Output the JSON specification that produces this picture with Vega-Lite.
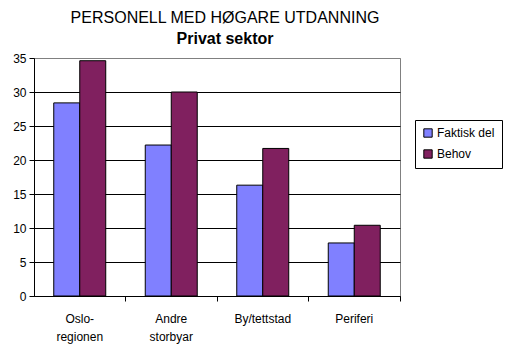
{
  "$schema": "https://vega.github.io/schema/vega-lite/v6.json",
  "autosize": "none",
  "width": 366,
  "height": 238,
  "padding": {"left": 34, "top": 58, "right": 115, "bottom": 52},
  "background": "white",
  "title": {
    "text": "PERSONELL MED HØGARE UTDANNING",
    "subtitle": "Privat sektor",
    "anchor": "middle",
    "dx": 8,
    "offset": 5,
    "font": "Liberation Sans",
    "fontSize": 16,
    "fontWeight": "normal",
    "color": "black",
    "subtitleFont": "Liberation Sans",
    "subtitleFontSize": 16,
    "subtitleFontWeight": "bold",
    "subtitleColor": "black",
    "subtitlePadding": 5
  },
  "data": {
    "values": [
      {"region": "Oslo-regionen", "serie": "Faktisk del", "verdi": 28.4},
      {"region": "Oslo-regionen", "serie": "Behov", "verdi": 34.6},
      {"region": "Andre storbyar", "serie": "Faktisk del", "verdi": 22.2},
      {"region": "Andre storbyar", "serie": "Behov", "verdi": 30.0},
      {"region": "By/tettstad", "serie": "Faktisk del", "verdi": 16.3},
      {"region": "By/tettstad", "serie": "Behov", "verdi": 21.7},
      {"region": "Periferi", "serie": "Faktisk del", "verdi": 7.8},
      {"region": "Periferi", "serie": "Behov", "verdi": 10.4}
    ]
  },
  "config": {
    "view": {"stroke": "#808080", "strokeWidth": 1},
    "axis": {"labelFont": "Liberation Sans", "labelFontSize": 12, "labelColor": "black", "domainColor": "black", "tickColor": "black"}
  },
  "mark": {"type": "bar", "stroke": "black", "strokeWidth": 1},
  "encoding": {
    "x": {
      "field": "region",
      "type": "nominal",
      "sort": ["Oslo-regionen", "Andre storbyar", "By/tettstad", "Periferi"],
      "scale": {"paddingInner": 0, "paddingOuter": 0},
      "axis": {
        "title": null,
        "labelAngle": 0,
        "bandPosition": 1,
        "tickSize": 5,
        "labelPadding": 12,
        "labelLineHeight": 18,
        "labelExpr": "datum.value == 'Oslo-regionen' ? ['Oslo-', 'regionen'] : (datum.value == 'Andre storbyar' ? ['Andre', 'storbyar'] : datum.value)"
      }
    },
    "xOffset": {
      "field": "serie",
      "type": "nominal",
      "sort": ["Faktisk del", "Behov"],
      "scale": {"paddingInner": 0, "paddingOuter": 0.76}
    },
    "y": {
      "field": "verdi",
      "type": "quantitative",
      "scale": {"domain": [0, 35], "nice": false},
      "axis": {
        "title": null,
        "values": [0, 5, 10, 15, 20, 25, 30, 35],
        "tickSize": 5,
        "labelPadding": 3,
        "grid": true,
        "gridColor": {"condition": {"test": "datum.value == 35", "value": "#808080"}, "value": "black"},
        "gridOpacity": 1
      }
    },
    "color": {
      "field": "serie",
      "type": "nominal",
      "sort": ["Faktisk del", "Behov"],
      "scale": {"domain": ["Faktisk del", "Behov"], "range": ["#8080ff", "#80205f"]},
      "legend": {
        "title": null,
        "orient": "none",
        "legendX": 381,
        "legendY": 62,
        "symbolType": "square",
        "symbolSize": 70,
        "symbolStrokeColor": "black",
        "symbolStrokeWidth": 1,
        "labelFont": "Liberation Sans",
        "labelFontSize": 12,
        "labelColor": "black",
        "labelOffset": 3,
        "rowPadding": 7,
        "padding": 7,
        "strokeColor": "black",
        "fillColor": "white"
      }
    }
  }
}
